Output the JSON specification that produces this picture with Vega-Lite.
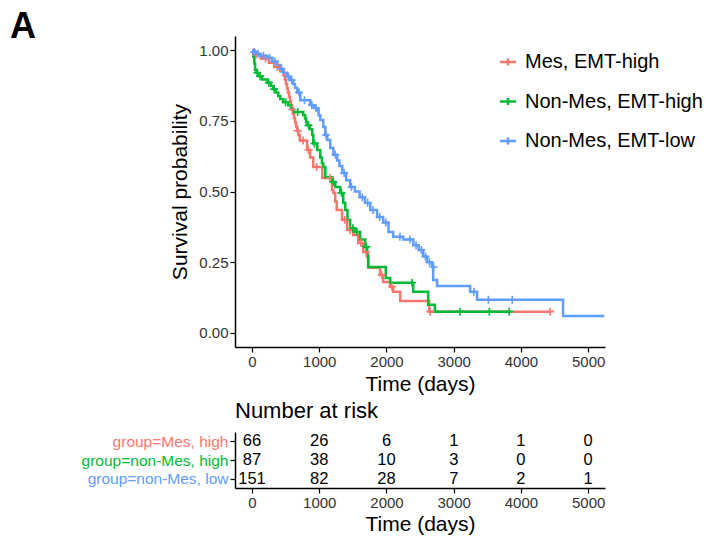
{
  "$schema": "https://vega.github.io/schema/vega-lite/v6.json",
  "autosize": {"type": "none"},
  "padding": {"left": 235, "top": 36, "right": 476, "bottom": 506},
  "background": "white",
  "bounds": "flush",
  "spacing": 85,
  "title": {"text": "A", "anchor": "start", "frame": "group", "fontSize": 36, "fontWeight": "bold", "font": "Liberation Sans", "color": "black", "dx": -225, "dy": 10, "offset": 0},
  "datasets": {
    "curves": [
      {"g": "Mes, EMT-high", "t": 0, "s": 1.0},
      {"g": "Mes, EMT-high", "t": 40, "s": 0.985},
      {"g": "Mes, EMT-high", "t": 130, "s": 0.97},
      {"g": "Mes, EMT-high", "t": 250, "s": 0.955},
      {"g": "Mes, EMT-high", "t": 330, "s": 0.94},
      {"g": "Mes, EMT-high", "t": 420, "s": 0.925},
      {"g": "Mes, EMT-high", "t": 470, "s": 0.91},
      {"g": "Mes, EMT-high", "t": 490, "s": 0.895},
      {"g": "Mes, EMT-high", "t": 505, "s": 0.88},
      {"g": "Mes, EMT-high", "t": 520, "s": 0.865},
      {"g": "Mes, EMT-high", "t": 535, "s": 0.85},
      {"g": "Mes, EMT-high", "t": 550, "s": 0.835},
      {"g": "Mes, EMT-high", "t": 565, "s": 0.82},
      {"g": "Mes, EMT-high", "t": 580, "s": 0.805},
      {"g": "Mes, EMT-high", "t": 595, "s": 0.79},
      {"g": "Mes, EMT-high", "t": 610, "s": 0.775},
      {"g": "Mes, EMT-high", "t": 625, "s": 0.76},
      {"g": "Mes, EMT-high", "t": 640, "s": 0.745},
      {"g": "Mes, EMT-high", "t": 655, "s": 0.73},
      {"g": "Mes, EMT-high", "t": 670, "s": 0.715},
      {"g": "Mes, EMT-high", "t": 690, "s": 0.7},
      {"g": "Mes, EMT-high", "t": 710, "s": 0.68},
      {"g": "Mes, EMT-high", "t": 820, "s": 0.647},
      {"g": "Mes, EMT-high", "t": 865, "s": 0.62},
      {"g": "Mes, EMT-high", "t": 910, "s": 0.587},
      {"g": "Mes, EMT-high", "t": 1045, "s": 0.548},
      {"g": "Mes, EMT-high", "t": 1190, "s": 0.505},
      {"g": "Mes, EMT-high", "t": 1210, "s": 0.495},
      {"g": "Mes, EMT-high", "t": 1238, "s": 0.465},
      {"g": "Mes, EMT-high", "t": 1260, "s": 0.435},
      {"g": "Mes, EMT-high", "t": 1340, "s": 0.4},
      {"g": "Mes, EMT-high", "t": 1415, "s": 0.364},
      {"g": "Mes, EMT-high", "t": 1505, "s": 0.346},
      {"g": "Mes, EMT-high", "t": 1580, "s": 0.318},
      {"g": "Mes, EMT-high", "t": 1655, "s": 0.286},
      {"g": "Mes, EMT-high", "t": 1710, "s": 0.27},
      {"g": "Mes, EMT-high", "t": 1728, "s": 0.23},
      {"g": "Mes, EMT-high", "t": 1905, "s": 0.205},
      {"g": "Mes, EMT-high", "t": 1950, "s": 0.18},
      {"g": "Mes, EMT-high", "t": 2055, "s": 0.163},
      {"g": "Mes, EMT-high", "t": 2100, "s": 0.145},
      {"g": "Mes, EMT-high", "t": 2205, "s": 0.113},
      {"g": "Mes, EMT-high", "t": 2635, "s": 0.075},
      {"g": "Mes, EMT-high", "t": 4435, "s": 0.075},
      {"g": "Non-Mes, EMT-high", "t": 0, "s": 1.0},
      {"g": "Non-Mes, EMT-high", "t": 20, "s": 0.977},
      {"g": "Non-Mes, EMT-high", "t": 35, "s": 0.954},
      {"g": "Non-Mes, EMT-high", "t": 45, "s": 0.931},
      {"g": "Non-Mes, EMT-high", "t": 60, "s": 0.92},
      {"g": "Non-Mes, EMT-high", "t": 95, "s": 0.908},
      {"g": "Non-Mes, EMT-high", "t": 150, "s": 0.896},
      {"g": "Non-Mes, EMT-high", "t": 228, "s": 0.885},
      {"g": "Non-Mes, EMT-high", "t": 280, "s": 0.873},
      {"g": "Non-Mes, EMT-high", "t": 317, "s": 0.862},
      {"g": "Non-Mes, EMT-high", "t": 350, "s": 0.85},
      {"g": "Non-Mes, EMT-high", "t": 390, "s": 0.838},
      {"g": "Non-Mes, EMT-high", "t": 420, "s": 0.827},
      {"g": "Non-Mes, EMT-high", "t": 465, "s": 0.816},
      {"g": "Non-Mes, EMT-high", "t": 540, "s": 0.805},
      {"g": "Non-Mes, EMT-high", "t": 580, "s": 0.793},
      {"g": "Non-Mes, EMT-high", "t": 614, "s": 0.781},
      {"g": "Non-Mes, EMT-high", "t": 762, "s": 0.77},
      {"g": "Non-Mes, EMT-high", "t": 790, "s": 0.758},
      {"g": "Non-Mes, EMT-high", "t": 805, "s": 0.746},
      {"g": "Non-Mes, EMT-high", "t": 822, "s": 0.734},
      {"g": "Non-Mes, EMT-high", "t": 860, "s": 0.72},
      {"g": "Non-Mes, EMT-high", "t": 896, "s": 0.7},
      {"g": "Non-Mes, EMT-high", "t": 911, "s": 0.67},
      {"g": "Non-Mes, EMT-high", "t": 970, "s": 0.647},
      {"g": "Non-Mes, EMT-high", "t": 1015, "s": 0.62},
      {"g": "Non-Mes, EMT-high", "t": 1040, "s": 0.6},
      {"g": "Non-Mes, EMT-high", "t": 1060, "s": 0.587},
      {"g": "Non-Mes, EMT-high", "t": 1090, "s": 0.55},
      {"g": "Non-Mes, EMT-high", "t": 1193, "s": 0.534},
      {"g": "Non-Mes, EMT-high", "t": 1238, "s": 0.516},
      {"g": "Non-Mes, EMT-high", "t": 1312, "s": 0.495},
      {"g": "Non-Mes, EMT-high", "t": 1357, "s": 0.46},
      {"g": "Non-Mes, EMT-high", "t": 1386, "s": 0.435},
      {"g": "Non-Mes, EMT-high", "t": 1420, "s": 0.4},
      {"g": "Non-Mes, EMT-high", "t": 1460, "s": 0.37},
      {"g": "Non-Mes, EMT-high", "t": 1535, "s": 0.357},
      {"g": "Non-Mes, EMT-high", "t": 1609, "s": 0.33},
      {"g": "Non-Mes, EMT-high", "t": 1684, "s": 0.304},
      {"g": "Non-Mes, EMT-high", "t": 1713, "s": 0.275},
      {"g": "Non-Mes, EMT-high", "t": 1728, "s": 0.233},
      {"g": "Non-Mes, EMT-high", "t": 1990, "s": 0.194},
      {"g": "Non-Mes, EMT-high", "t": 2055, "s": 0.177},
      {"g": "Non-Mes, EMT-high", "t": 2397, "s": 0.145},
      {"g": "Non-Mes, EMT-high", "t": 2620, "s": 0.099},
      {"g": "Non-Mes, EMT-high", "t": 2720, "s": 0.075},
      {"g": "Non-Mes, EMT-high", "t": 3825, "s": 0.075},
      {"g": "Non-Mes, EMT-low", "t": 0, "s": 1.0},
      {"g": "Non-Mes, EMT-low", "t": 20, "s": 0.993},
      {"g": "Non-Mes, EMT-low", "t": 60, "s": 0.987},
      {"g": "Non-Mes, EMT-low", "t": 120, "s": 0.98},
      {"g": "Non-Mes, EMT-low", "t": 228, "s": 0.973},
      {"g": "Non-Mes, EMT-low", "t": 300, "s": 0.96},
      {"g": "Non-Mes, EMT-low", "t": 376, "s": 0.947},
      {"g": "Non-Mes, EMT-low", "t": 420, "s": 0.934},
      {"g": "Non-Mes, EMT-low", "t": 465, "s": 0.92},
      {"g": "Non-Mes, EMT-low", "t": 520, "s": 0.907},
      {"g": "Non-Mes, EMT-low", "t": 569, "s": 0.894},
      {"g": "Non-Mes, EMT-low", "t": 610, "s": 0.88},
      {"g": "Non-Mes, EMT-low", "t": 640, "s": 0.867},
      {"g": "Non-Mes, EMT-low", "t": 673, "s": 0.85},
      {"g": "Non-Mes, EMT-low", "t": 718, "s": 0.823},
      {"g": "Non-Mes, EMT-low", "t": 866, "s": 0.806},
      {"g": "Non-Mes, EMT-low", "t": 920, "s": 0.795},
      {"g": "Non-Mes, EMT-low", "t": 970, "s": 0.788},
      {"g": "Non-Mes, EMT-low", "t": 990, "s": 0.77},
      {"g": "Non-Mes, EMT-low", "t": 1015, "s": 0.753},
      {"g": "Non-Mes, EMT-low", "t": 1060, "s": 0.728},
      {"g": "Non-Mes, EMT-low", "t": 1090, "s": 0.7},
      {"g": "Non-Mes, EMT-low", "t": 1119, "s": 0.682},
      {"g": "Non-Mes, EMT-low", "t": 1163, "s": 0.654},
      {"g": "Non-Mes, EMT-low", "t": 1210, "s": 0.63},
      {"g": "Non-Mes, EMT-low", "t": 1267, "s": 0.61},
      {"g": "Non-Mes, EMT-low", "t": 1300, "s": 0.59},
      {"g": "Non-Mes, EMT-low", "t": 1342, "s": 0.565},
      {"g": "Non-Mes, EMT-low", "t": 1400, "s": 0.54},
      {"g": "Non-Mes, EMT-low", "t": 1460, "s": 0.516},
      {"g": "Non-Mes, EMT-low", "t": 1530, "s": 0.5},
      {"g": "Non-Mes, EMT-low", "t": 1600, "s": 0.48},
      {"g": "Non-Mes, EMT-low", "t": 1680, "s": 0.46},
      {"g": "Non-Mes, EMT-low", "t": 1758, "s": 0.435},
      {"g": "Non-Mes, EMT-low", "t": 1860, "s": 0.41},
      {"g": "Non-Mes, EMT-low", "t": 1951, "s": 0.39},
      {"g": "Non-Mes, EMT-low", "t": 2030, "s": 0.357},
      {"g": "Non-Mes, EMT-low", "t": 2100, "s": 0.34},
      {"g": "Non-Mes, EMT-low", "t": 2250, "s": 0.33},
      {"g": "Non-Mes, EMT-low", "t": 2400, "s": 0.31},
      {"g": "Non-Mes, EMT-low", "t": 2480, "s": 0.293},
      {"g": "Non-Mes, EMT-low", "t": 2545, "s": 0.27},
      {"g": "Non-Mes, EMT-low", "t": 2605, "s": 0.25},
      {"g": "Non-Mes, EMT-low", "t": 2679, "s": 0.233},
      {"g": "Non-Mes, EMT-low", "t": 2694, "s": 0.187},
      {"g": "Non-Mes, EMT-low", "t": 2753, "s": 0.166},
      {"g": "Non-Mes, EMT-low", "t": 3244, "s": 0.145},
      {"g": "Non-Mes, EMT-low", "t": 3348, "s": 0.117},
      {"g": "Non-Mes, EMT-low", "t": 4626, "s": 0.06},
      {"g": "Non-Mes, EMT-low", "t": 5240, "s": 0.06}
    ],
    "censor": [
      {"g": "Mes, EMT-high", "t": 60, "s": 0.985},
      {"g": "Mes, EMT-high", "t": 200, "s": 0.97},
      {"g": "Mes, EMT-high", "t": 380, "s": 0.94},
      {"g": "Mes, EMT-high", "t": 600, "s": 0.79},
      {"g": "Mes, EMT-high", "t": 680, "s": 0.715},
      {"g": "Mes, EMT-high", "t": 760, "s": 0.68},
      {"g": "Mes, EMT-high", "t": 840, "s": 0.647},
      {"g": "Mes, EMT-high", "t": 960, "s": 0.587},
      {"g": "Mes, EMT-high", "t": 1160, "s": 0.548},
      {"g": "Mes, EMT-high", "t": 1380, "s": 0.4},
      {"g": "Mes, EMT-high", "t": 1460, "s": 0.364},
      {"g": "Mes, EMT-high", "t": 1620, "s": 0.318},
      {"g": "Mes, EMT-high", "t": 1700, "s": 0.286},
      {"g": "Mes, EMT-high", "t": 1930, "s": 0.205},
      {"g": "Mes, EMT-high", "t": 2080, "s": 0.163},
      {"g": "Mes, EMT-high", "t": 2650, "s": 0.075},
      {"g": "Mes, EMT-high", "t": 4435, "s": 0.075},
      {"g": "Non-Mes, EMT-high", "t": 80, "s": 0.92},
      {"g": "Non-Mes, EMT-high", "t": 120, "s": 0.908},
      {"g": "Non-Mes, EMT-high", "t": 250, "s": 0.885},
      {"g": "Non-Mes, EMT-high", "t": 330, "s": 0.862},
      {"g": "Non-Mes, EMT-high", "t": 500, "s": 0.816},
      {"g": "Non-Mes, EMT-high", "t": 680, "s": 0.781},
      {"g": "Non-Mes, EMT-high", "t": 840, "s": 0.734},
      {"g": "Non-Mes, EMT-high", "t": 930, "s": 0.67},
      {"g": "Non-Mes, EMT-high", "t": 1210, "s": 0.534},
      {"g": "Non-Mes, EMT-high", "t": 1330, "s": 0.495},
      {"g": "Non-Mes, EMT-high", "t": 1500, "s": 0.37},
      {"g": "Non-Mes, EMT-high", "t": 1560, "s": 0.357},
      {"g": "Non-Mes, EMT-high", "t": 1700, "s": 0.304},
      {"g": "Non-Mes, EMT-high", "t": 2380, "s": 0.177},
      {"g": "Non-Mes, EMT-high", "t": 3095, "s": 0.075},
      {"g": "Non-Mes, EMT-high", "t": 3530, "s": 0.075},
      {"g": "Non-Mes, EMT-high", "t": 3825, "s": 0.075},
      {"g": "Non-Mes, EMT-low", "t": 30, "s": 0.993},
      {"g": "Non-Mes, EMT-low", "t": 90, "s": 0.987},
      {"g": "Non-Mes, EMT-low", "t": 170, "s": 0.98},
      {"g": "Non-Mes, EMT-low", "t": 260, "s": 0.973},
      {"g": "Non-Mes, EMT-low", "t": 340, "s": 0.96},
      {"g": "Non-Mes, EMT-low", "t": 440, "s": 0.934},
      {"g": "Non-Mes, EMT-low", "t": 540, "s": 0.907},
      {"g": "Non-Mes, EMT-low", "t": 590, "s": 0.894},
      {"g": "Non-Mes, EMT-low", "t": 700, "s": 0.85},
      {"g": "Non-Mes, EMT-low", "t": 780, "s": 0.823},
      {"g": "Non-Mes, EMT-low", "t": 890, "s": 0.806},
      {"g": "Non-Mes, EMT-low", "t": 950, "s": 0.795},
      {"g": "Non-Mes, EMT-low", "t": 1100, "s": 0.7},
      {"g": "Non-Mes, EMT-low", "t": 1240, "s": 0.63},
      {"g": "Non-Mes, EMT-low", "t": 1370, "s": 0.565},
      {"g": "Non-Mes, EMT-low", "t": 1480, "s": 0.516},
      {"g": "Non-Mes, EMT-low", "t": 1640, "s": 0.48},
      {"g": "Non-Mes, EMT-low", "t": 1720, "s": 0.46},
      {"g": "Non-Mes, EMT-low", "t": 1800, "s": 0.435},
      {"g": "Non-Mes, EMT-low", "t": 1900, "s": 0.41},
      {"g": "Non-Mes, EMT-low", "t": 1990, "s": 0.39},
      {"g": "Non-Mes, EMT-low", "t": 2200, "s": 0.34},
      {"g": "Non-Mes, EMT-low", "t": 2350, "s": 0.33},
      {"g": "Non-Mes, EMT-low", "t": 2440, "s": 0.31},
      {"g": "Non-Mes, EMT-low", "t": 2520, "s": 0.293},
      {"g": "Non-Mes, EMT-low", "t": 2580, "s": 0.27},
      {"g": "Non-Mes, EMT-low", "t": 2640, "s": 0.25},
      {"g": "Non-Mes, EMT-low", "t": 2700, "s": 0.233},
      {"g": "Non-Mes, EMT-low", "t": 3300, "s": 0.145},
      {"g": "Non-Mes, EMT-low", "t": 3515, "s": 0.117},
      {"g": "Non-Mes, EMT-low", "t": 3870, "s": 0.117}
    ],
    "risk": [
      {"row": "group=Mes, high", "t": 0, "n": 66},
      {"row": "group=Mes, high", "t": 1000, "n": 26},
      {"row": "group=Mes, high", "t": 2000, "n": 6},
      {"row": "group=Mes, high", "t": 3000, "n": 1},
      {"row": "group=Mes, high", "t": 4000, "n": 1},
      {"row": "group=Mes, high", "t": 5000, "n": 0},
      {"row": "group=non-Mes, high", "t": 0, "n": 87},
      {"row": "group=non-Mes, high", "t": 1000, "n": 38},
      {"row": "group=non-Mes, high", "t": 2000, "n": 10},
      {"row": "group=non-Mes, high", "t": 3000, "n": 3},
      {"row": "group=non-Mes, high", "t": 4000, "n": 0},
      {"row": "group=non-Mes, high", "t": 5000, "n": 0},
      {"row": "group=non-Mes, low", "t": 0, "n": 151},
      {"row": "group=non-Mes, low", "t": 1000, "n": 82},
      {"row": "group=non-Mes, low", "t": 2000, "n": 28},
      {"row": "group=non-Mes, low", "t": 3000, "n": 7},
      {"row": "group=non-Mes, low", "t": 4000, "n": 2},
      {"row": "group=non-Mes, low", "t": 5000, "n": 1}
    ]
  },
  "vconcat": [
    {
      "width": 370,
      "height": 311,
      "layer": [
        {
          "data": {"name": "curves"},
          "mark": {"type": "line", "interpolate": "step-after", "strokeWidth": 2.5},
          "encoding": {
            "x": {"field": "t", "type": "quantitative", "scale": {"domain": [-253, 5250], "nice": false, "zero": false},
                  "axis": {"title": "Time (days)", "values": [0, 1000, 2000, 3000, 4000, 5000], "format": "d", "titlePadding": 4}},
            "y": {"field": "s", "type": "quantitative", "scale": {"domain": [-0.05, 1.05], "nice": false, "zero": false},
                  "axis": {"title": "Survival probability", "values": [0, 0.25, 0.5, 0.75, 1], "format": ".2f", "titlePadding": 8}},
            "color": {"field": "g", "type": "nominal",
                      "scale": {"domain": ["Mes, EMT-high", "Non-Mes, EMT-high", "Non-Mes, EMT-low"], "range": ["#F8766D", "#00BA38", "#619CFF"]},
                      "legend": {"title": null, "orient": "none", "legendX": 263, "legendY": 16, "symbolType": "M-1,0H1M0,-0.45V0.45", "symbolSize": 256, "symbolStrokeWidth": 2.5, "labelFontSize": 20, "labelFont": "Liberation Sans", "labelColor": "black", "labelLimit": 0, "rowPadding": 19.5, "padding": 0, "labelOffset": 7}}
          }
        },
        {
          "data": {"name": "censor"},
          "mark": {"type": "point", "shape": "M-1,0H1M0,-1V1", "size": 64, "strokeWidth": 1.6, "filled": false, "opacity": 1},
          "encoding": {
            "x": {"field": "t", "type": "quantitative"},
            "y": {"field": "s", "type": "quantitative"},
            "color": {"field": "g", "type": "nominal",
                      "legend": {"title": null, "orient": "none", "legendX": 263, "legendY": 16, "symbolType": "M-1,0H1M0,-0.45V0.45", "symbolSize": 256, "symbolStrokeWidth": 2.5, "labelFontSize": 20, "labelFont": "Liberation Sans", "labelColor": "black", "labelLimit": 0, "rowPadding": 19.5, "padding": 0, "labelOffset": 7}}
          }
        }
      ]
    },
    {
      "width": 370,
      "height": 56,
      "title": {"text": "Number at risk", "anchor": "start", "frame": "group", "fontSize": 22, "fontWeight": "normal", "font": "Liberation Sans", "color": "black", "offset": 9},
      "data": {"name": "risk"},
      "mark": {"type": "text", "fontSize": 16.5, "font": "Liberation Sans", "color": "black"},
      "encoding": {
        "x": {"field": "t", "type": "quantitative", "scale": {"domain": [-253, 5250], "nice": false, "zero": false},
              "axis": {"title": "Time (days)", "values": [0, 1000, 2000, 3000, 4000, 5000], "format": "d", "titlePadding": 3}},
        "y": {"field": "row", "type": "nominal", "sort": ["group=Mes, high", "group=non-Mes, high", "group=non-Mes, low"],
              "scale": {"paddingInner": 0, "paddingOuter": 0},
              "axis": {"title": null, "labelFontSize": 15.5, "labelPadding": 2, "labelLimit": 0,
                       "labelColor": {"condition": [{"test": "datum.value === 'group=Mes, high'", "value": "#F8766D"}, {"test": "datum.value === 'group=non-Mes, high'", "value": "#00BA38"}], "value": "#619CFF"}}},
        "text": {"field": "n", "type": "quantitative"}
      }
    }
  ],
  "config": {
    "font": "Liberation Sans",
    "view": {"stroke": null},
    "axis": {"grid": false, "domainColor": "black", "domainWidth": 1.5, "tickColor": "black", "tickWidth": 1.2, "tickSize": 5,
             "labelFontSize": 15, "labelColor": "#333333", "labelFont": "Liberation Sans",
             "titleFontSize": 21, "titleFontWeight": "normal", "titleColor": "black", "titleFont": "Liberation Sans"}
  }
}
